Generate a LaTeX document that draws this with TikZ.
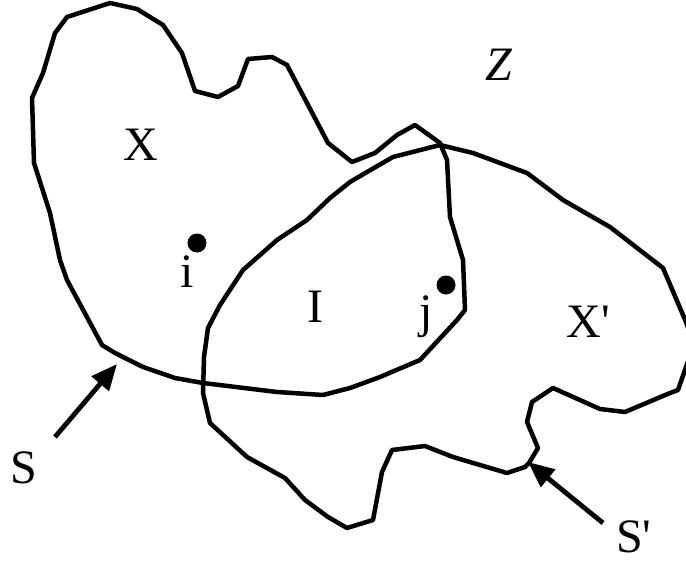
\documentclass[tikz,border=0pt]{standalone}
\usepackage{fontspec}
\setmainfont{Liberation Serif}
\usetikzlibrary{arrows.meta}
\tikzset{
  region/.style={line width=4.5pt, line join=round, line cap=round},
  lbl/.style={anchor=base, inner sep=0pt, font=\fontsize{48}{56}\selectfont},
  ptdot/.style={circle, fill=black, inner sep=0pt, minimum size=19pt},
  pointer/.style={line width=4.8pt, -{Triangle[length=26pt,width=22pt]}}
}
\begin{document}
\begin{tikzpicture}[x=1pt,y=-1pt]
\useasboundingbox (0,0) rectangle (686,562);
\clip (0,0) rectangle (686,562);
% boundary S of region X
\draw[region] (110,3) -- (67,17) -- (55,33) -- (43,73) -- (32,98) -- (34,163)
  -- (50,213) -- (60,260) -- (67,280) -- (102,345) -- (115,353) -- (143,367)
  -- (175,378) -- (203,383) -- (277,392) -- (323,395) -- (350,388) -- (380,377)
  -- (420,360) -- (457,320) -- (465,310) -- (463,260) -- (450,217) -- (447,160)
  -- (440,143) -- (415,125) -- (397,135) -- (375,153) -- (352,162)
  -- (328,143) -- (287,65) -- (272,57) -- (248,59) -- (238,86) -- (218,97)
  -- (195,91) -- (182,53) -- (163,25) -- (137,9) -- cycle;
% boundary S' of region X'
\draw[region] (440,145) -- (473,153) -- (527,173) -- (563,200) -- (610,227)
  -- (663,268) -- (686,322) -- (694,345) -- (686,367) -- (678,390) -- (670,393)
  -- (625,412) -- (600,409) -- (553,388) -- (532,402) -- (527,422) -- (538,448)
  -- (529,463) -- (525,467) -- (507,473) -- (453,457) -- (425,446) -- (392,450)
  -- (382,472) -- (373,520) -- (347,528) -- (328,517) -- (305,500) -- (285,478)
  -- (247,457) -- (210,423) -- (203,393) -- (204,357) -- (208,328) -- (220,305)
  -- (243,270) -- (277,240) -- (307,220) -- (330,198) -- (350,182) -- (367,172)
  -- (393,157) -- cycle;
% labels
\node[lbl] (Z) at (499,80) {\itshape Z};
\node[lbl] (X) at (141,160) {X};
\node[lbl] (Ilab) at (315,322) {I};
\node[lbl] (ilab) at (187,287) {i};
\node[lbl] (jlab) at (426,327) {j};
\node[lbl] (Xp) at (588,337) {X\textquotesingle};
\node[lbl] (S) at (24,483) {S};
\node[lbl, anchor=base west] (Sp) at (616,552) {S\textquotesingle};
% points
\node[ptdot] (pi) at (197,243) {};
\node[ptdot] (pj) at (446,285) {};
% arrows
\coordinate (Stail) at (55,437);
\coordinate (Stip) at (117,364);
\coordinate (Sptail) at (603,523);
\coordinate (Sptip) at (528,462);
\draw[pointer] (Stail) -- (Stip);
\draw[pointer] (Sptail) -- (Sptip);
\end{tikzpicture}
\end{document}
